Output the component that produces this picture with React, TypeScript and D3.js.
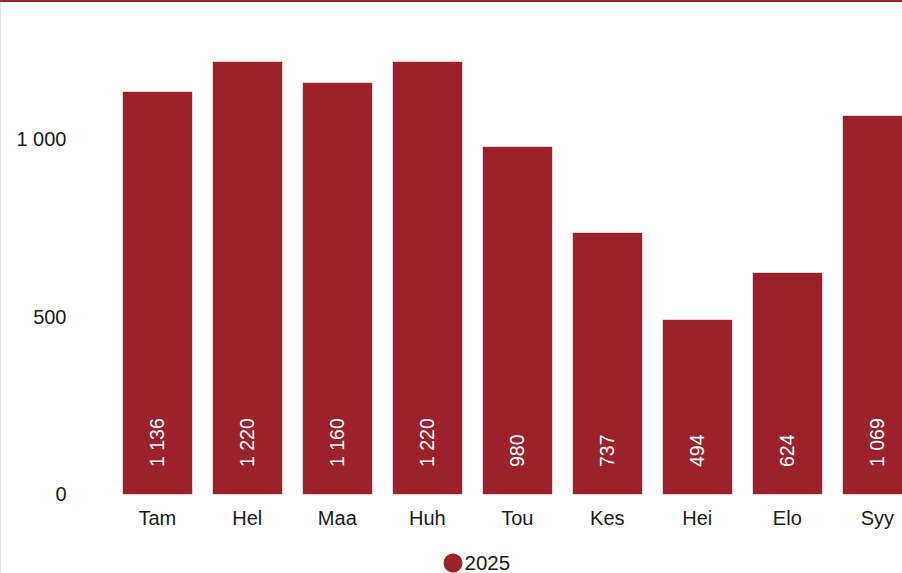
import React, { useEffect, useRef } from "react";
import * as d3 from "d3";

const months = ["Tam", "Hel", "Maa", "Huh", "Tou", "Kes", "Hei", "Elo", "Syy"];
const values2025 = [1136, 1220, 1160, 1220, 980, 737, 494, 624, 1069];
const yTicks = [0, 500, 1000];
const seriesName = "2025";

const W = 902;
const H = 573;
const BAR = "#9b222d";

const fmt = (v: number) => d3.format(",")(v).replace(/,/g, " ");

const App: React.FC = () => {
  const svgRef = useRef<SVGSVGElement>(null);

  useEffect(() => {
    const svg = d3.select(svgRef.current);
    svg.selectAll("*").remove();

    const x = d3
      .scaleBand<string>()
      .domain(months)
      .range([112.3, 922.3])
      .paddingInner(0.215)
      .paddingOuter(0.1075);

    const y = d3.scaleLinear().domain([0, 1000]).range([494, 139]);

    svg.append("rect").attr("width", W).attr("height", H).attr("fill", "#fff");

    // frame
    svg.append("line").attr("x1", 0.5).attr("x2", 0.5).attr("y1", 0).attr("y2", H)
      .attr("stroke", "#e6e6e6");
    svg.append("rect").attr("x", 0).attr("y", 0).attr("width", W).attr("height", 2)
      .attr("fill", BAR);

    // y axis labels
    svg.append("g")
      .selectAll("text")
      .data(yTicks)
      .enter()
      .append("text")
      .attr("x", 66.5)
      .attr("y", (d) => y(d))
      .attr("dy", "0.35em")
      .attr("text-anchor", "end")
      .attr("fill", "#1a1a1a")
      .style("font-size", "20px")
      .text((d) => fmt(d));

    const bars = svg.append("g")
      .selectAll("g")
      .data(months)
      .enter()
      .append("g");

    bars.append("rect")
      .attr("x", (d) => Math.round(x(d)!) + 0.5)
      .attr("y", (d, i) => Math.round(y(values2025[i])) + 0.5)
      .attr("width", Math.round(x.bandwidth()) - 1)
      .attr("height", (d, i) => Math.round(y(0)) - Math.round(y(values2025[i])))
      .attr("fill", BAR)
      .attr("stroke", "#fff")
      .attr("stroke-opacity", 0.6)
      .attr("stroke-width", 1);

    bars.append("text")
      .attr("transform", (d) => `translate(${x(d)! + x.bandwidth() / 2 + 7},${y(0) - 27}) rotate(-90)`)
      .attr("fill", "#fff")
      .style("font-size", "19.5px")
      .text((d, i) => fmt(values2025[i]));

    // x axis labels
    svg.append("g")
      .selectAll("text")
      .data(months)
      .enter()
      .append("text")
      .attr("x", (d) => x(d)! + x.bandwidth() / 2)
      .attr("y", 525)
      .attr("text-anchor", "middle")
      .attr("fill", "#1a1a1a")
      .style("font-size", "20px")
      .text((d) => d);

    // legend
    const legend = svg.append("g").attr("transform", "translate(453,563)");
    legend.append("circle").attr("r", 9.5).attr("fill", BAR);
    legend.append("text")
      .attr("x", 11.5)
      .attr("y", 7)
      .attr("fill", "#1a1a1a")
      .style("font-size", "20.5px")
      .text(seriesName);
  }, []);

  return (
    <div style={{ position: "fixed", left: 0, top: 0, width: W, height: H }}>
      <svg
        ref={svgRef}
        width={W}
        height={H}
        style={{ display: "block", fontFamily: "'Liberation Sans', Arial, sans-serif" }}
      ></svg>
    </div>
  );
};

export default App;
